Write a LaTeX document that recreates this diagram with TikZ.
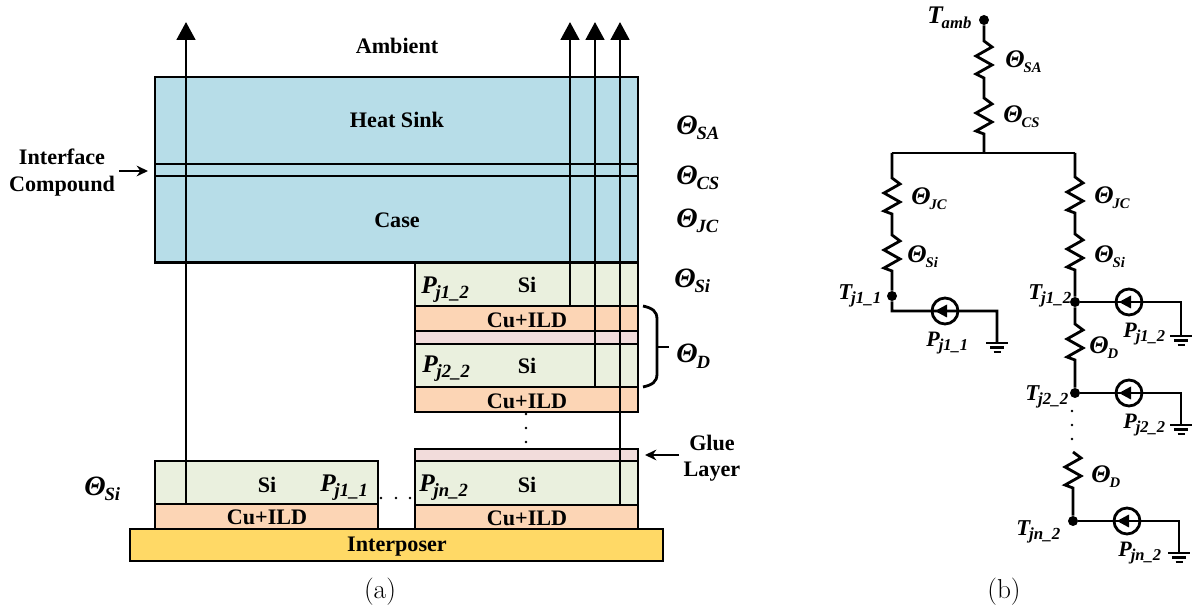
\documentclass[tikz,border=0pt]{standalone}
\usepackage{fontspec}
\setmainfont{Liberation Serif}
\newfontfamily\capfont{Latin Modern Roman}
\usetikzlibrary{arrows.meta,calc}
\newlength{\pxu}\setlength{\pxu}{0.75pt}
% main label: #1 letter, #2 subscript, #3 letter size (pt), #4 subscript size (pt)
\newcommand{\lbl}[4]{{\bfseries\itshape\fontsize{#3}{#3}\selectfont #1\kern-0.04em\raisebox{-0.2em}{\fontsize{#4}{#4}\selectfont #2}}}
\newcommand{\bigTheta}[1]{\lbl{Θ}{#1}{21}{14}}
\newcommand{\bigP}[1]{\lbl{P}{#1}{19}{14}}
\newcommand{\smTheta}[1]{\lbl{Θ}{#1}{19}{11}}
\newcommand{\smP}[1]{\lbl{P}{#1}{16.5}{12.4}}
\newcommand{\smT}[1]{\lbl{T}{#1}{17}{12.7}}
% rectangle layer given by its corners
\newcommand{\layer}[6]{%
  \pgfmathsetmacro{\lw}{#4-#2}\pgfmathsetmacro{\lh}{#5-#3}%
  \pgfmathsetmacro{\lcx}{(#4+#2)/2}\pgfmathsetmacro{\lcy}{(#5+#3)/2}%
  \node[layerbox,fill=#6,minimum width=\lw\pxu,minimum height=\lh\pxu] (#1) at (\lcx,\lcy) {};}
\newcommand{\groundat}[1]{%
  \draw[wire] ($(#1)+(-11,0)$) -- ($(#1)+(11,0)$);
  \draw[wire] ($(#1)+(-7,4.5)$) -- ($(#1)+(7,4.5)$);
  \draw[wire] ($(#1)+(-3.5,9)$) -- ($(#1)+(3.5,9)$);}
\newcommand{\srcarrow}[1]{\fill ($(#1)+(-10,0)$) -- ($(#1)+(2,-6.5)$) -- ($(#1)+(2,6.5)$) -- cycle;}
\tikzset{
  x=0.75pt,y=-0.75pt,
  layerbox/.style={draw=black,line width=1.7pt,inner sep=0pt,outer sep=0pt},
  heat/.style={line width=2.1pt,-{Triangle[length=13.5pt,width=14pt]}},
  small arrow/.style={line width=1.6pt,-{Stealth[length=8.5pt,width=8pt]}},
  inner line/.style={line width=1.7pt},
  txt/.style={font=\bfseries\fontsize{16.6}{16.6}\selectfont,inner sep=0pt},
  sym/.style={anchor=west,inner sep=0pt},
  wire/.style={line width=2.1pt,line join=miter},
  jdot/.style={circle,fill=black,inner sep=0pt,minimum size=7.5pt},
  source/.style={circle,draw=black,line width=2.1pt,minimum size=19.5pt,inner sep=0pt},
  resistor/.style={to path={-- ++(8,6) -- ++(-16,9) -- ++(16,9) -- ++(-16,9) -- (\tikztotarget) \tikztonodes}},
  sdot/.style={circle,fill=black,inner sep=0pt,minimum size=2.2pt},
  captext/.style={font=\capfont\fontsize{20.5}{20.5}\selectfont,inner sep=0pt},
}
\begin{document}
\begin{tikzpicture}
\useasboundingbox (0,0) rectangle (1193,609);
\definecolor{cblue}{HTML}{B7DDE8}
\definecolor{cgreen}{HTML}{EAF0DE}
\definecolor{corange}{HTML}{FCD5B5}
\definecolor{cpink}{HTML}{F2DCDB}
\definecolor{cyellow}{HTML}{FFD966}
% ---------- (a) stack ----------
\layer{package}{155}{77}{638}{263}{cblue}
\coordinate (ifL1) at (155,164); \coordinate (ifR1) at (638,164);
\coordinate (ifL2) at (155,176); \coordinate (ifR2) at (638,176);
\draw[inner line] (ifL1) -- (ifR1);
\draw[inner line] (ifL2) -- (ifR2);
\coordinate (caseL) at (155,262.5); \coordinate (caseR) at (638,262.5);
\layer{siA}{415}{263}{638}{306}{cgreen}
\layer{cuA}{415}{306}{638}{331}{corange}
\layer{glueA}{415}{331}{638}{344}{cpink}
\layer{siB}{415}{344}{638}{387}{cgreen}
\layer{cuB}{415}{387}{638}{412}{corange}
\layer{glueN}{415}{449}{638}{461}{cpink}
\layer{siN}{415}{461}{638}{505}{cgreen}
\layer{cuN}{415}{505}{638}{529}{corange}
\layer{siL}{155}{461}{378}{504}{cgreen}
\layer{cuL}{155}{504}{378}{529}{corange}
\layer{inter}{130}{529}{663}{561}{cyellow}
\draw[line width=2.4pt] (caseL) -- (caseR);
% heat paths
\coordinate (h1s) at (186,504); \coordinate (h1t) at (186,22);
\coordinate (h2s) at (570,306); \coordinate (h2t) at (570,22);
\coordinate (h3s) at (595,387); \coordinate (h3t) at (595,22);
\coordinate (h4s) at (620,505); \coordinate (h4t) at (620,22);
\draw[heat] (h1s) -- (h1t);
\draw[heat] (h2s) -- (h2t);
\draw[heat] (h3s) -- (h3t);
\draw[heat] (h4s) -- (h4t);
% brace
\coordinate (brT) at (643,306); \coordinate (brB) at (643,387); \coordinate (brM) at (669,347);
\draw[line width=2.1pt] (brT) .. controls (652,308) and (657,311) .. (657,319) -- (657,374) .. controls (657,382) and (652,385) .. (brB);
\draw[line width=2.1pt] (657,347) -- (brM);
% arrows
\coordinate (glueS) at (679,455); \coordinate (glueE) at (645,455);
\draw[small arrow] (glueS) -- (glueE);
\coordinate (ifS) at (119,171); \coordinate (ifE) at (148,171);
\draw[small arrow] (ifS) -- (ifE);
% dots
\node[sdot] (va) at (526,414) {}; \node[sdot] (vb) at (526,428) {}; \node[sdot] (vc) at (526,442) {};
\node[sdot] (ha) at (381,498) {}; \node[sdot] (hb) at (396,498) {}; \node[sdot] (hc) at (410,498) {};
% texts
\node[txt] (tAmb) at (397,46) {Ambient};
\node[txt] (tHS) at (397,120) {Heat Sink};
\node[txt] (tCase) at (397,220) {Case};
\node[txt] (tIf) at (62,157) {Interface};
\node[txt] (tCo) at (62,186) {Compound};
\node[txt] (tGl) at (712,443) {Glue};
\node[txt] (tLa) at (712,472) {Layer};
\node[txt] (tS1) at (527,285) {Si};
\node[txt] (tC1) at (527,320) {Cu+ILD};
\node[txt] (tS2) at (527,366) {Si};
\node[txt] (tC2) at (527,401) {Cu+ILD};
\node[txt] (tS3) at (527,485) {Si};
\node[txt] (tC3) at (527,518) {Cu+ILD};
\node[txt] (tS4) at (267,485) {Si};
\node[txt] (tC4) at (267,517) {Cu+ILD};
\node[txt] (tIn) at (397,547) {Interposer};
\node[sym] (aSA) at (676,128) {\bigTheta{SA}};
\node[sym] (aCS) at (676,178) {\bigTheta{CS}};
\node[sym] (aJC) at (676,221) {\bigTheta{JC}};
\node[sym] (aSi) at (674,281) {\bigTheta{Si}};
\node[sym] (aD) at (676,356) {\bigTheta{D}};
\node[sym] (aSiL) at (84,489) {\bigTheta{Si}};
\node[sym] (p12) at (421,290) {\bigP{j1\_2}};
\node[sym] (p22) at (422,369) {\bigP{j2\_2}};
\node[sym] (pn2) at (419,488) {\bigP{jn\_2}};
\node[sym] (p11) at (320,488) {\bigP{j1\_1}};
\node[captext] (capA) at (380,592) {(a)};
\node[captext] (capB) at (1004,592) {(b)};
% ---------- (b) network ----------
\node[jdot] (tamb) at (984,20) {};
\coordinate (r1t) at (984,41); \coordinate (r1b) at (984,78);
\coordinate (r2t) at (984,98); \coordinate (r2b) at (984,134);
\coordinate (busM) at (984,153); \coordinate (busL) at (892,153); \coordinate (busR) at (1075,153);
\draw[wire] (tamb) -- (r1t) to[resistor] (r1b) -- (r2t) to[resistor] (r2b) -- (busM);
\draw[wire] (busL) -- (busR);
% left branch
\coordinate (r3t) at (892,178); \coordinate (r3b) at (892,214);
\coordinate (r4t) at (892,235); \coordinate (r4b) at (892,271);
\node[jdot] (j11) at (892,296) {};
\coordinate (c11) at (892,311); \coordinate (e11) at (997,311); \coordinate (g11) at (997,343);
\draw[wire] (busL) -- (r3t) to[resistor] (r3b) -- (r4t) to[resistor] (r4b) -- (j11) -- (c11) -- (e11) -- (g11);
\node[source] (s11) at (945,311) {};
\srcarrow{s11}
\groundat{g11}
% right branch
\coordinate (r5t) at (1075,177); \coordinate (r5b) at (1075,213);
\coordinate (r6t) at (1075,234); \coordinate (r6b) at (1075,270);
\node[jdot] (j12) at (1075,302) {};
\coordinate (r7t) at (1075,324); \coordinate (r7b) at (1075,360);
\node[jdot] (j22) at (1075,393) {};
\coordinate (r8t) at (1073,452); \coordinate (r8b) at (1073,488);
\node[jdot] (jn2) at (1073,521) {};
\draw[wire] (busR) -- (r5t) to[resistor] (r5b) -- (r6t) to[resistor] (r6b) -- (j12) -- (r7t) to[resistor] (r7b) -- (j22);
\draw[wire] (r8t) to[resistor] (r8b) -- (jn2);
\coordinate (e12) at (1181,302); \coordinate (g12) at (1181,336);
\coordinate (e22) at (1181,393); \coordinate (g22) at (1181,425);
\coordinate (en2) at (1179,521); \coordinate (gn2) at (1179,553);
\draw[wire] (j12) -- (e12) -- (g12);
\draw[wire] (j22) -- (e22) -- (g22);
\draw[wire] (jn2) -- (en2) -- (gn2);
\node[source] (s12) at (1129,302) {};
\node[source] (s22) at (1129,393) {};
\node[source] (sn2) at (1127,521) {};
\srcarrow{s12}\srcarrow{s22}\srcarrow{sn2}
\groundat{g12}\groundat{g22}\groundat{gn2}
\node[sdot] (d1) at (1072,411) {}; \node[sdot] (d2) at (1072,425) {}; \node[sdot] (d3) at (1072,439) {};
% network labels
\node[sym] (lTamb) at (927,18) {\lbl{T}{amb}{19}{12.5}};
\node[sym] (lSA) at (1005,62) {\smTheta{SA}};
\node[sym] (lCS) at (1003,117) {\smTheta{CS}};
\node[sym] (lJCl) at (911,199) {\smTheta{JC}};
\node[sym] (lSil) at (907,257) {\smTheta{Si}};
\node[sym] (lJCr) at (1094,198) {\smTheta{JC}};
\node[sym] (lSir) at (1094,257) {\smTheta{Si}};
\node[sym] (lT11) at (838,296) {\smT{j1\_1}};
\node[sym] (lP11) at (926,343) {\smP{j1\_1}};
\node[sym] (lT12) at (1028,296) {\smT{j1\_2}};
\node[sym] (lP12) at (1123,334) {\smP{j1\_2}};
\node[sym] (lDa) at (1089,348) {\smTheta{D}};
\node[sym] (lT22) at (1025,397) {\smT{j2\_2}};
\node[sym] (lP22) at (1123,425) {\smP{j2\_2}};
\node[sym] (lDb) at (1091,477) {\smTheta{D}};
\node[sym] (lTn2) at (1016,532) {\smT{jn\_2}};
\node[sym] (lPn2) at (1118,553) {\smP{jn\_2}};
\end{tikzpicture}
\end{document}
